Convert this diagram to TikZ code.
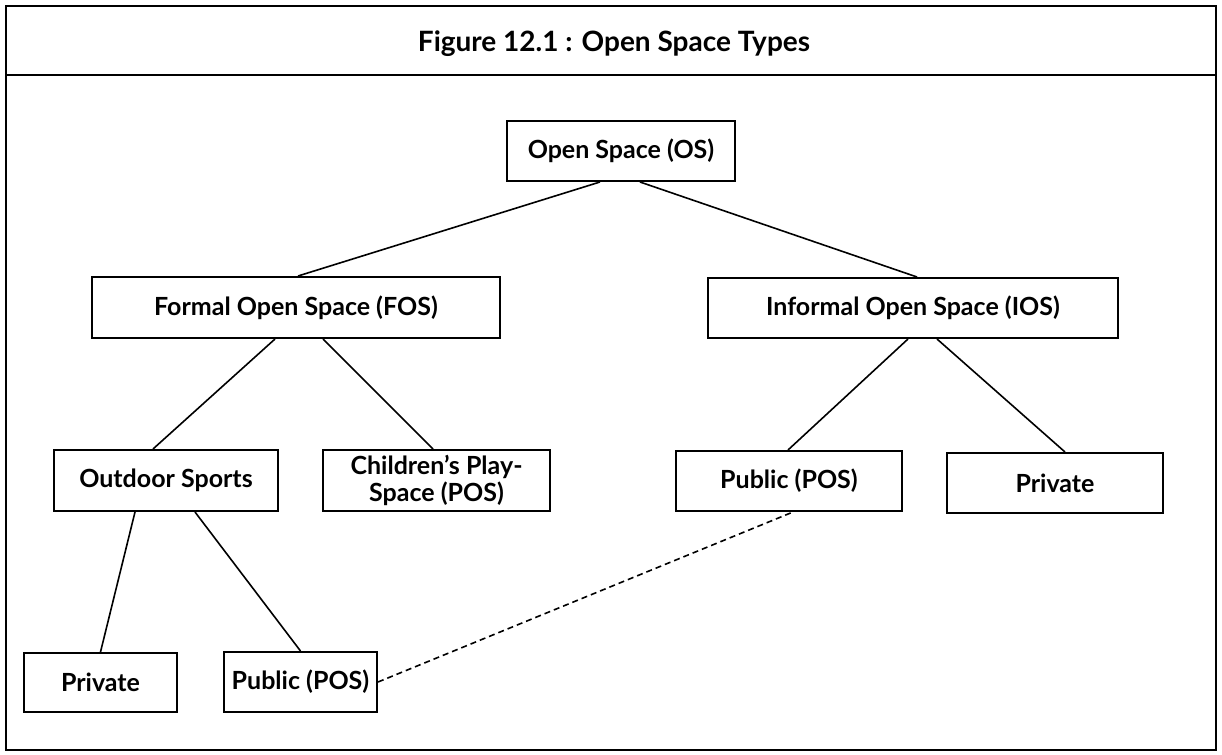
\documentclass[tikz,border=0pt]{standalone}
\usepackage{fontspec}
\setmainfont{Lato}
\usetikzlibrary{positioning}

\begin{document}
\begin{tikzpicture}[x=0.5pt, y=-0.5pt,
	box/.style={draw, line width=1pt, align=center, inner sep=0pt, font=\fontsize{12.5}{13.5}\selectfont\bfseries},
	link/.style={line width=0.8pt}]
	\useasboundingbox (0,0) rectangle (1222,755);
	
	% frame and title band
	\draw[line width=1pt] (6,6) rectangle (1216,750);
	\draw[line width=1pt] (6,75) -- (1216,75);
	\node[font=\fontsize{14}{16}\selectfont\bfseries] (title) at (614,44) {Figure 12.1 : Open Space Types};
	
	\node[box, minimum width=114pt, minimum height=30pt] (os) at (621,151) {Open Space (OS)};
	\node[box, minimum width=204pt, minimum height=30.5pt] (fos) at (296,307.5) {Formal Open Space (FOS)};
	\node[box, minimum width=205pt, minimum height=30pt] (ios) at (913,308) {Informal Open Space (IOS)};
	\node[box, minimum width=112pt, minimum height=30.5pt] (outdoor) at (166,480.5) {Outdoor Sports};
	\node[box, minimum width=113.5pt, minimum height=30.5pt] (play) at (436.5,480.5) {Children’s Play-\\Space (POS)};
	\node[box, minimum width=113pt, minimum height=30pt] (pubR) at (789,481) {Public (POS)};
	\node[box, minimum width=108pt, minimum height=30pt] (privR) at (1055,483) {Private};
	\node[box, minimum width=76.5pt, minimum height=29.5pt] (privL) at (100.5,682.5) {Private};
	\node[box, minimum width=76.5pt, minimum height=30pt] (pubL) at (300.5,682) {Public (POS)};
	
	\draw[link] ([xshift=-10.5pt]os.south) -- ([xshift=1pt]fos.north);
	\draw[link] ([xshift=9.5pt]os.south) -- ([xshift=2pt]ios.north);
	
	\draw[link] ([xshift=-10.5pt]fos.south) -- ([xshift=-6.5pt]outdoor.north);
	\draw[link] ([xshift=13.5pt]fos.south) -- ([xshift=-1.75pt]play.north);
	
	\draw[link] ([xshift=-2.5pt]ios.south) -- ([xshift=-0.5pt]pubR.north);
	\draw[link] ([xshift=12pt]ios.south) -- ([xshift=5pt]privR.north);
	
	\draw[link] ([xshift=-15.5pt]outdoor.south) -- (privL.north);
	\draw[link] ([xshift=14.5pt]outdoor.south) -- (pubL.north);
	
	\draw[link, dash pattern=on 3pt off 2pt] (pubL.east) -- ([xshift=2pt]pubR.south);
\end{tikzpicture}
\end{document}
